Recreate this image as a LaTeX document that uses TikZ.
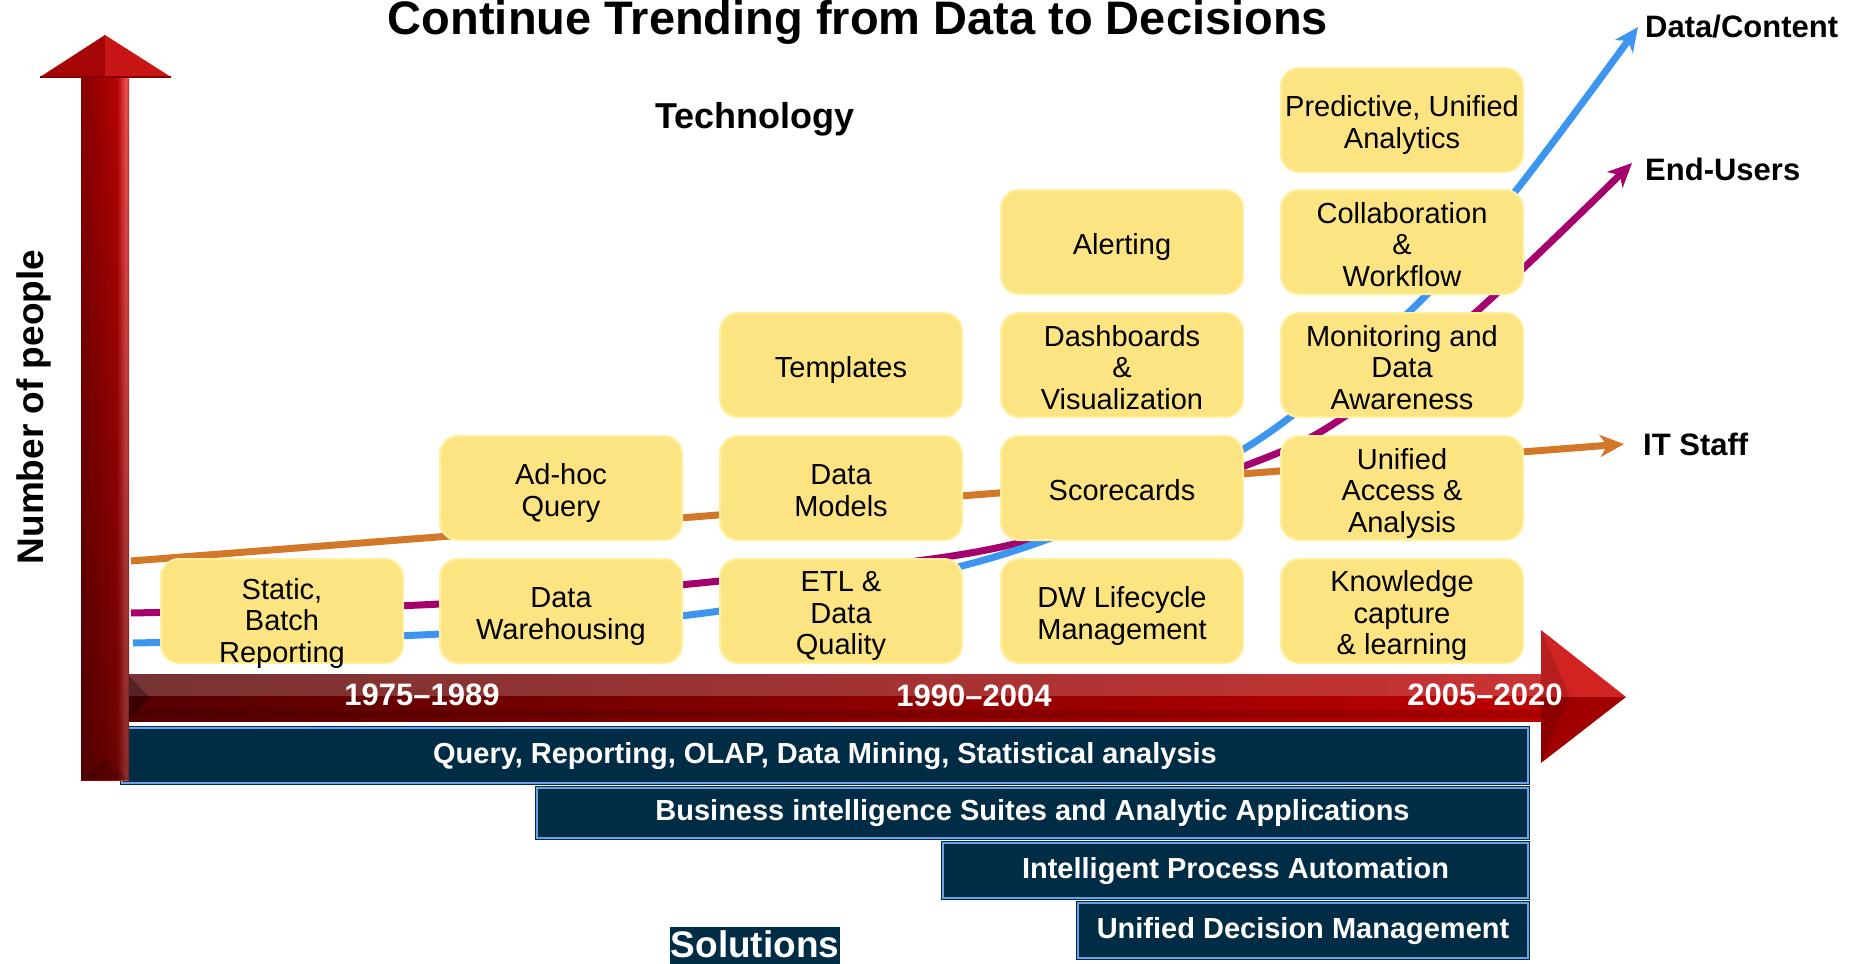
\documentclass[tikz,border=0pt]{standalone}
\usepackage{fontspec}
\setmainfont{Liberation Sans}
\usetikzlibrary{arrows.meta,fadings}
\definecolor{boxy}{RGB}{252,228,130}
\definecolor{boxedge}{RGB}{255,240,160}
\definecolor{navy}{RGB}{0,44,70}
\definecolor{navyline}{RGB}{110,160,230}
\definecolor{lblue}{RGB}{60,150,240}
\definecolor{lmag}{RGB}{165,0,110}
\definecolor{lorange}{RGB}{210,120,40}
\definecolor{vA}{RGB}{135,0,0}
\definecolor{vB}{RGB}{180,5,5}
\definecolor{vC}{RGB}{240,80,80}
\definecolor{vD}{RGB}{190,45,45}
\definecolor{hA}{RGB}{165,5,5}
\definecolor{hB}{RGB}{200,22,22}
\definecolor{hC}{RGB}{210,35,35}
\definecolor{hD}{RGB}{160,0,0}
\definecolor{sL}{RGB}{85,0,0}
\definecolor{sR}{RGB}{190,0,0}
\newcommand\ytext[2]{\raisebox{-#1}[0pt][0pt]{\begin{tabular}{@{}c@{}}#2\end{tabular}}}
\begin{document}
\begin{tikzpicture}[x=1pt,y=-1pt,
  ybox/.style={draw=boxedge, line width=2pt, fill=boxy, rounded corners=18pt,
    minimum width=242pt, minimum height=104pt, inner sep=0pt,
    font=\fontsize{29}{31.5}\selectfont, text=black},
  bar/.style={fill=navy, draw=navy, double=navyline, double distance=2pt, line width=1.2pt,
    text=white, font=\bfseries\fontsize{29}{32}\selectfont, text height=21pt, text depth=6pt, inner sep=0pt},
  yr/.style={text=white, font=\bfseries\fontsize{31}{34}\selectfont, anchor=base},
  rlab/.style={text=black, font=\bfseries\fontsize{31}{34}\selectfont, anchor=base west, inner sep=0pt},
  trend/.style={line width=7pt, -{Stealth[length=24pt,width=22pt,inset=7pt]}}
]
\useasboundingbox (0,0) rectangle (1864,964);

% solution bars
\node[bar, minimum width=1406pt, minimum height=55pt] (b1) at (825,755.5) {Query, Reporting, OLAP, Data Mining, Statistical analysis};
\node[bar, minimum width=991pt, minimum height=50pt] (b2) at (1032.5,813) {Business intelligence Suites and Analytic Applications};
\node[bar, minimum width=585pt, minimum height=55pt] (b3) at (1235.5,870.5) {Intelligent Process Automation};
\node[bar, minimum width=450pt, minimum height=55pt] (b4) at (1303,930.5) {Unified Decision Management};
\node[fill=navy, text=white, font=\bfseries\fontsize{37}{40}\selectfont, inner xsep=1pt, inner ysep=0pt,
  text height=30pt, text depth=9pt, anchor=base] (sol) at (755,957) {Solutions};

% vertical axis arrow
\shade[left color=vA, right color=vB] (81,77) rectangle (117,780);
\shade[left color=vB, right color=vC] (117,77) rectangle (126,780);
\shade[left color=vC, right color=vD] (126,77) rectangle (129,780);
\fill[black, path fading=north, fill opacity=0.4] (81,77) rectangle (129,780);
\fill[black, fill opacity=0.15] (81,780) -- (129,780) -- (105,757) -- cycle;
\fill[hA] (40,77) -- (105,35) -- (105,77) -- cycle;
\fill[hB] (105,77) -- (105,35) -- (171,77) -- cycle;
\draw[vA, line width=1.5pt] (40,77) -- (171,77);

% horizontal axis arrow
\shade[left color=sL, right color=sR] (129,674) rectangle (1541,721);
\fill[white, fill opacity=0.2] (129,674) rectangle (1541,696);
\fill[black, fill opacity=0.12] (129,710) rectangle (1541,718);
\fill[black, fill opacity=0.3] (129,676) -- (150,698) -- (129,718) -- cycle;
\fill[hC] (1541,630) -- (1626,697) -- (1541,697) -- cycle;
\fill[hD] (1541,697) -- (1626,697) -- (1541,763) -- cycle;
\fill[black, fill opacity=0.12] (1541,630) -- (1570,697) -- (1541,763) -- cycle;

% trend lines
\coordinate (oS) at (131,561);
\coordinate (oT) at (1624,444);
\coordinate (mT) at (1632,163);
\coordinate (bT) at (1638,27);
\draw[trend, lorange] (oS) -- (oT);
\draw[trend, lmag] plot[smooth, tension=0.55] coordinates {(131,613) (440,604) (720,581) (1001,547) (1242,467) (1344,417) (1475,313) (mT)};
\draw[trend, lblue] plot[smooth, tension=0.55] coordinates {(133,643) (440,634) (720,611) (1001,555) (1242,450) (1408,313) (1514,193) (bT)};

% technology boxes
\node[ybox] (s1) at (282,611) {\ytext{19.5pt}{Static,\\Batch\\Reporting}};
\node[ybox] (dw) at (561,611) {\ytext{12.5pt}{Data\\Warehousing}};
\node[ybox] (aq) at (561,488) {\ytext{12.5pt}{Ad-hoc\\Query}};
\node[ybox] (etl) at (841,611) {\ytext{12pt}{ETL \&\\Data\\Quality}};
\node[ybox] (dm) at (841,488) {\ytext{12.5pt}{Data\\Models}};
\node[ybox] (tp) at (841,365) {\ytext{12.5pt}{Templates}};
\node[ybox] (dwl) at (1122,611) {\ytext{12.5pt}{DW Lifecycle\\Management}};
\node[ybox] (sc) at (1122,488) {\ytext{12.5pt}{Scorecards}};
\node[ybox] (db) at (1122,365) {\ytext{12.5pt}{Dashboards\\\&\\Visualization}};
\node[ybox] (al) at (1122,242) {\ytext{12.5pt}{Alerting}};
\node[ybox] (kc) at (1402,611) {\ytext{12pt}{Knowledge\\capture\\\& learning}};
\node[ybox] (ua) at (1402,488) {\ytext{12.5pt}{Unified\\Access \&\\Analysis}};
\node[ybox] (md) at (1402,365) {\ytext{12.5pt}{Monitoring and\\Data\\Awareness}};
\node[ybox] (cw) at (1402,242) {\ytext{12.5pt}{Collaboration\\\&\\Workflow}};
\node[ybox] (pu) at (1402,120) {\ytext{12.5pt}{Predictive, Unified\\Analytics}};

% year labels
\node[yr] (y1) at (422,705) {1975–1989};
\node[yr] (y2) at (974,706) {1990–2004};
\node[yr] (y3) at (1485,705) {2005–2020};

% trend labels
\node[rlab] (ldc) at (1645,37) {Data/Content};
\node[rlab] (leu) at (1645,180) {End-Users};
\node[rlab] (lit) at (1643,455) {IT Staff};

% titles
\node[font=\bfseries\fontsize{47}{50}\selectfont, anchor=base] (title) at (858,34) {Continue Trending from Data to Decisions};
\node[font=\bfseries\fontsize{36}{40}\selectfont, anchor=base] (tech) at (755,128) {Technology};
\node[font=\bfseries\fontsize{37}{40}\selectfont, rotate=90, anchor=base] (nop) at (43,407) {Number of people};
\end{tikzpicture}
\end{document}
